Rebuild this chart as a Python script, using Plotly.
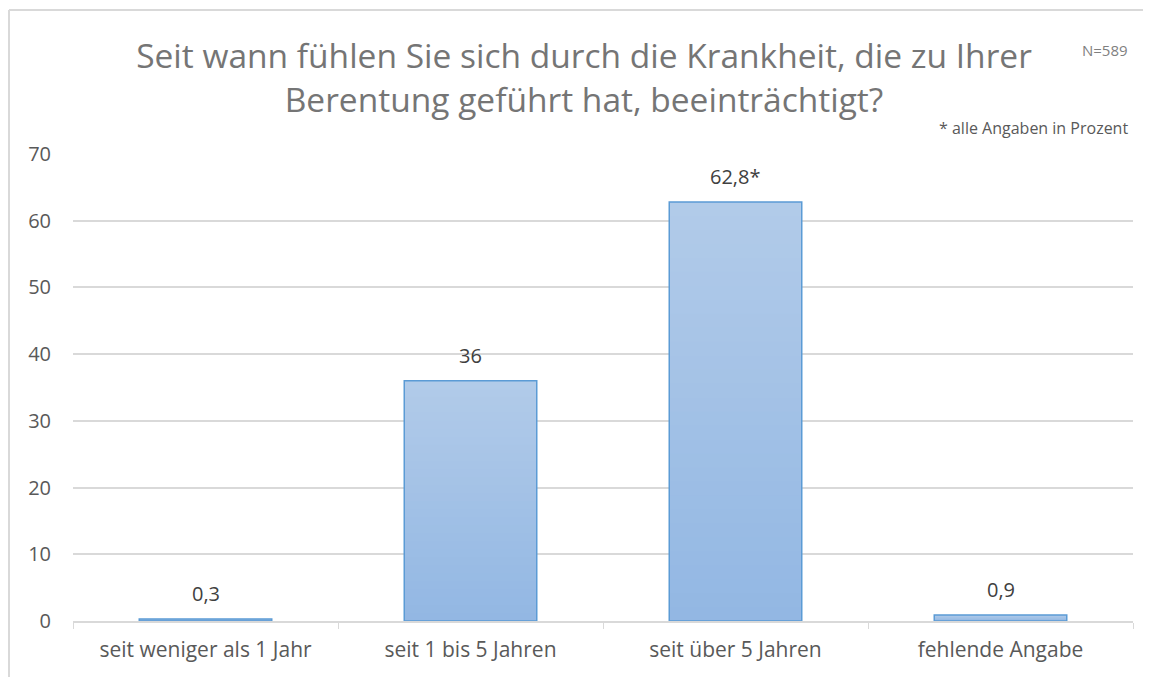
import plotly.graph_objects as go

# Daten
categories = ["seit weniger als 1 Jahr", "seit 1 bis 5 Jahren", "seit über 5 Jahren", "fehlende Angabe"]
values = [0.3, 36, 62.8, 0.9]
value_labels = ["0,3", "36", "62,8*", "0,9"]
y_ticks = [0, 10, 20, 30, 40, 50, 60, 70]

title_text = "Seit wann fühlen Sie sich durch die Krankheit, die zu Ihrer<br>Berentung geführt hat, beeinträchtigt?"

FONT = "Open Sans"
top_rgb = (178, 203, 233)
bottom_rgb = (146, 183, 227)
steps = 30

# Seite hat 8px Rand (body margin), Figur ragt rechts/unten etwas raus
W, H = 1151, 677
L, R, T, B = 65, 26, 146, 64
ph = H - T - B
pw = W - L - R


def mix(a, b, t):
    return "rgb(%d,%d,%d)" % tuple(round(a[k] + (b[k] - a[k]) * t) for k in range(3))


def py(fig_y):
    # Pixel (von oben, Figurkoordinaten) -> paper y
    return (H - B - fig_y) / ph


fig = go.Figure()

# Verlaufsfuellung: gestapelte Balken, jeweils etwas kuerzer und dunkler
for i in range(steps):
    frac = 1 - i / steps
    fig.add_trace(go.Bar(
        x=categories, y=[v * frac for v in values],
        width=0.5,
        marker=dict(color=mix(top_rgb, bottom_rgb, (i + 0.5) / steps), line=dict(width=0)),
        hoverinfo="skip", showlegend=False,
    ))

# Umrandung
fig.add_trace(go.Bar(
    x=categories, y=values,
    width=0.5,
    marker=dict(color="rgba(0,0,0,0)", line=dict(color="#5b9bd5", width=1.5)),
    showlegend=False,
))

# Wertebeschriftungen
annos = [
    dict(x=c, y=v, text=t, xref="x", yref="y", yanchor="bottom", yshift=10, showarrow=False,
         font=dict(family=FONT, size=20, color="#404040"))
    for c, v, t in zip(categories, values, value_labels)
]
annos += [
    dict(text="N=589", xref="paper", yref="paper", x=(1122 - L) / pw, y=py(42),
         xanchor="right", yanchor="middle", showarrow=False,
         font=dict(family=FONT, size=15, color="#7f7f7f")),
    dict(text="* alle Angaben in Prozent", xref="paper", yref="paper", x=(1122 - L) / pw, y=py(120),
         xanchor="right", yanchor="middle", showarrow=False,
         font=dict(family=FONT, size=16, color="#595959")),
]

fig.update_layout(
    width=W, height=H,
    barmode="overlay",
    paper_bgcolor="white", plot_bgcolor="white",
    margin=dict(l=L, r=R, t=T, b=B),
    font=dict(family=FONT, color="#595959"),
    title=dict(text=title_text, x=576 / W, xanchor="center", y=1 - 60 / H, yanchor="middle",
               font=dict(family=FONT, size=33.5, color="#757575")),
    annotations=annos,
    shapes=[
        dict(type="line", xref="paper", yref="paper", x0=(1 - L) / pw, x1=1.2, y0=py(2), y1=py(2),
             line=dict(color="#d9d9d9", width=2)),
        dict(type="line", xref="paper", yref="paper", x0=(1 - L) / pw, x1=(1 - L) / pw,
             y0=py(2), y1=-0.3, line=dict(color="#d9d9d9", width=2)),
    ],
)

fig.update_xaxes(
    showline=True, linecolor="#d9d9d9", linewidth=1.5,
    ticks="outside", tickson="boundaries", ticklen=6, tickcolor="#d9d9d9",
    tickfont=dict(family=FONT, size=21, color="#595959"),
    ticklabelstandoff=9,
    showgrid=False,
)
fig.update_yaxes(
    range=[0, 70], tickvals=y_ticks,
    showgrid=True, gridcolor="#d9d9d9", gridwidth=1.5,
    zeroline=False, showline=False,
    tickfont=dict(family=FONT, size=20, color="#595959"),
    ticklabelstandoff=21,
)

fig.write_html("out.html")
